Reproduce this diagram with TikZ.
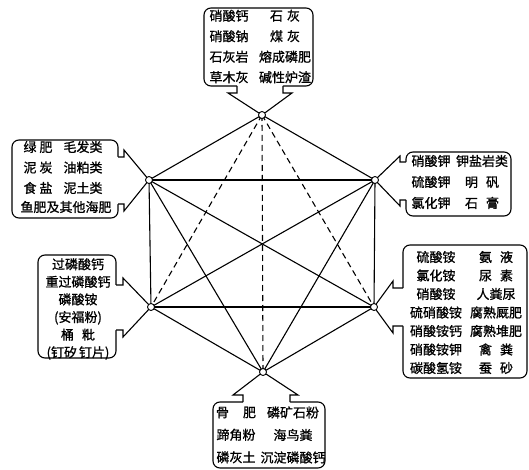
\documentclass[tikz,border=0pt]{standalone}
\usepackage{fontspec}
\newfontfamily\cjk[FakeBold=1]{Noto Sans CJK SC}
\usetikzlibrary{calc}

\begin{document}
\begin{tikzpicture}[x=1pt,y=-1pt,line width=1.1pt,
  box/.style={rounded corners=7pt},
  txt/.style={align=center,inner sep=0pt,font=\cjk\fontsize{13}{#1}\selectfont},
  txt/.default=20.5,
  dot/.style={circle,draw,fill=white,line width=0.9pt,inner sep=0pt,minimum size=7pt}]
  \useasboundingbox (0,0) rectangle (529,470);
  % 頂点
  \coordinate (top) at (262,115);
  \coordinate (ul) at (149,180);
  \coordinate (ur) at (375,180);
  \coordinate (ll) at (151,307);
  \coordinate (lr) at (374,307);
  \coordinate (bot) at (263,372);
  % 上の枠
  \draw[box] (204,8) rectangle (313,86);
  \fill[white] (237,85) -- (237,93) -- (228,93) -- (top) -- (292,93) -- (283,93) -- (283,85) -- cycle;
  \draw (237,86) -- (237,93) -- (228,93) -- (top) -- (292,93) -- (283,93) -- (283,86);
  \node[txt] (topa) at (229,46.5) {硝酸钙\\硝酸钠\\石灰岩\\草木灰};
  \node[txt] (topb) at (285,46.5) {石\hspace{4pt}灰\\煤\hspace{4pt}灰\\熔成磷肥\\碱性炉渣};
  % 左上の枠
  \draw[box] (12,140) rectangle (118,218);
  \fill[white] (117,157) -- (124,157) -- (124,150) -- (ul) -- (124,211) -- (124,204) -- (117,204) -- cycle;
  \draw (118,157) -- (124,157) -- (124,150) -- (ul) -- (124,211) -- (124,204) -- (118,204);
  \node[txt] (ula) at (38,167.5) {绿\hspace{3pt}肥\\泥\hspace{3pt}炭\\食\hspace{3pt}盐};
  \node[txt] (ulb) at (83,167.5) {毛发类\\油粕类\\泥土类};
  \node[txt] (ulc) at (66,207) {鱼肥及其他海肥};
  % 右上の枠
  \draw[box] (406,152) rectangle (511,216);
  \fill[white] (407,162) -- (400,162) -- (400,156) -- (ur) -- (400,206) -- (400,200) -- (407,200) -- cycle;
  \draw (406,162) -- (400,162) -- (400,156) -- (ur) -- (400,206) -- (400,200) -- (406,200);
  \node[txt={21}] (ura) at (431,182) {硝酸钾\\硫酸钾\\氯化钾};
  \node[txt={21}] (urb) at (482,182) {钾盐岩类\\明\hspace{8pt}矾\\石\hspace{8pt}膏};
  % 左下の枠
  \draw[box] (38,255) rectangle (116,358);
  \fill[white] (115,285) -- (123,285) -- (123,278) -- (ll) -- (123,337) -- (123,330) -- (115,330) -- cycle;
  \draw (116,285) -- (123,285) -- (123,278) -- (ll) -- (123,337) -- (123,330) -- (116,330);
  \node[txt={17.6}] (lla) at (78,309) {过磷酸钙\\重过磷酸钙\\磷酸铵\\(安福粉)\\桶\hspace{8pt}粃\\(钉矽\hspace{2pt}钉片)};
  % 右下の枠
  \draw[box] (403,245) rectangle (527,378);
  \fill[white] (404,288) -- (393,288) -- (393,281) -- (lr) -- (393,333) -- (393,326) -- (404,326) -- cycle;
  \draw (403,288) -- (393,288) -- (393,281) -- (lr) -- (393,333) -- (393,326) -- (403,326);
  \node[txt={18.5}] (lra) at (436,312.5) {硫酸铵\\氯化铵\\硝酸铵\\硫硝酸铵\\硝酸铵钙\\硝酸铵钾\\碳酸氢铵};
  \node[txt={18.5}] (lrb) at (496,312.5) {氨\hspace{8pt}液\\尿\hspace{8pt}素\\人粪尿\\腐熟厩肥\\腐熟堆肥\\禽\hspace{8pt}粪\\蚕\hspace{8pt}砂};
  % 下の枠
  \draw[box] (213,402) rectangle (325,468);
  \fill[white] (243,403) -- (243,395) -- (233,395) -- (bot) -- (298,395) -- (290,395) -- (290,403) -- cycle;
  \draw (243,402) -- (243,395) -- (233,395) -- (bot) -- (298,395) -- (290,395) -- (290,402);
  \node[txt={22.5}] (bota) at (236,435) {骨\hspace{14pt}肥\\蹄角粉\\磷灰土};
  \node[txt={22.5}] (botb) at (293,435) {磷矿石粉\\海鸟粪\\沉淀磷酸钙};
  % 六角形と対角線
  \draw (top) -- (ul) -- (ll) -- (bot) -- (lr) -- (ur) -- cycle;
  \draw (ul) -- (ur) (ll) -- (lr);
  \draw (ul) -- (lr) (ur) -- (ll);
  \draw (ul) -- (bot) (ur) -- (bot);
  % 破線
  \draw[dash pattern=on 6pt off 4pt] (top) -- (ll) (top) -- (lr) (top) -- (bot);
  % 頂点の丸
  \foreach \v in {top,ul,ur,ll,lr,bot}
    \node[dot] (\v dot) at (\v) {};
\end{tikzpicture}
\end{document}
